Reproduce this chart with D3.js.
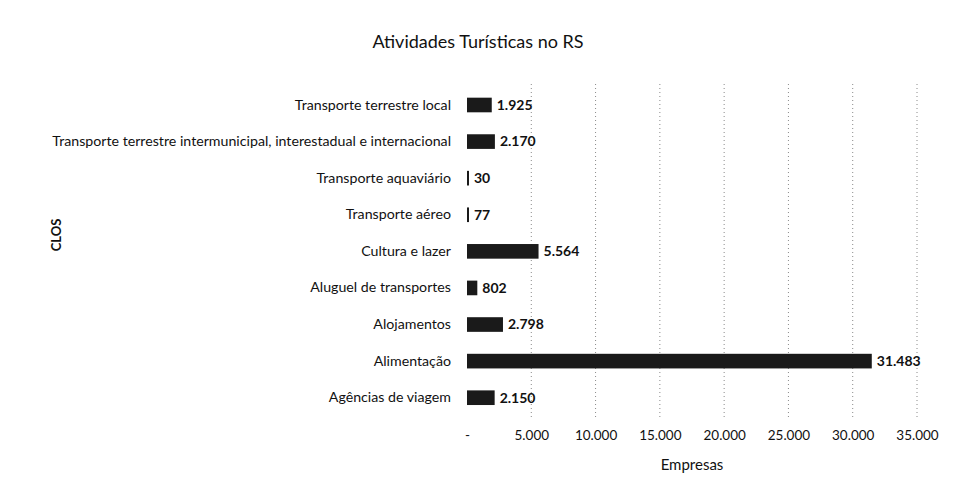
<!DOCTYPE html>
<html>
<head>
<meta charset="utf-8">
<script src="https://cdnjs.cloudflare.com/ajax/libs/d3/7.8.5/d3.min.js"></script>
<style>
  body { margin: 0; background: #fff; }
  #chart text { font-family: Lato, "Open Sans", sans-serif; fill: #111; }
</style>
</head>
<body>
<div id="chart"></div>
<script>
// dados
const categorias = [
    "Transporte terrestre local",
    "Transporte terrestre intermunicipal, interestadual e internacional",
    "Transporte aquaviário",
    "Transporte aéreo",
    "Cultura e lazer",
    "Aluguel de transportes",
    "Alojamentos",
    "Alimentação",
    "Agências de viagem"
];
const empresas = [1925, 2170, 30, 77, 5564, 802, 2798, 31483, 2150];
const ticksX = [0, 5000, 10000, 15000, 20000, 25000, 30000, 35000];

const data = categorias.map((c, i) => ({ cat: c, val: empresas[i] }));

// formato pt-BR: 1.925 e "-" para zero
const fmt = v => v === 0 ? "-" : d3.format(",")(v).replace(/,/g, ".");

function drawChart() {
    var W = 957, H = 478;
    var plotTop = 84, plotBottom = 420, plotLeft = 467;

    var root = d3.select("#chart").append("svg")
        .attr("width", W)
        .attr("height", H);

    // título
    root.append("text")
        .attr("x", 478)
        .attr("y", 48)
        .attr("text-anchor", "middle")
        .style("font-size", "18px")
        .text("Atividades Turísticas no RS");

    var svg = root.append("g")
        .attr("transform", `translate(${plotLeft},0)`);

    var x = d3.scaleLinear().domain([0, 35000]).range([0, 450]);
    var y = d3.scaleBand().domain(categorias).range([86.7, 416])
        .paddingInner(0.6).paddingOuter(0.3);

    // linhas de grade pontilhadas
    svg.selectAll(".grid")
        .data(ticksX.slice(1))
        .enter().append("line")
        .attr("class", "grid")
        .attr("x1", d => x(d)).attr("x2", d => x(d))
        .attr("y1", plotTop).attr("y2", plotBottom)
        .attr("stroke", "#8a8a8a")
        .attr("stroke-width", 1)
        .attr("stroke-dasharray", "1,3");

    // barras
    svg.selectAll(".bar")
        .data(data)
        .enter().append("rect")
        .attr("class", "bar")
        .attr("x", x(0))
        .attr("y", d => y(d.cat))
        .attr("width", d => Math.max(2, x(d.val) - x(0)))
        .attr("height", y.bandwidth())
        .attr("fill", "#1a1a1a");

    // rótulos de valor
    svg.selectAll(".bar-label")
        .data(data)
        .enter().append("text")
        .attr("class", "bar-label")
        .attr("x", d => Math.max(2, x(d.val)) + 5)
        .attr("y", d => y(d.cat) + y.bandwidth() / 2)
        .attr("dy", "0.35em")
        .style("font-size", "14px")
        .style("font-weight", "bold")
        .text(d => fmt(d.val));

    // eixo Y (categorias)
    var yAxis = svg.append("g")
        .attr("class", "axis y-axis")
        .attr("transform", "translate(-16,0)")
        .call(d3.axisLeft(y).tickSize(0).tickPadding(0));
    yAxis.select(".domain").remove();
    yAxis.selectAll("text").style("font-size", "14.2px");

    // eixo X
    var xAxis = svg.append("g")
        .attr("class", "axis x-axis")
        .attr("transform", `translate(0,${plotBottom})`)
        .call(d3.axisBottom(x).tickValues(ticksX).tickSize(0).tickPadding(10).tickFormat(fmt));
    xAxis.select(".domain").remove();
    xAxis.selectAll("text").style("font-size", "13.5px");

    // títulos dos eixos
    root.append("text")
        .attr("x", plotLeft + x(17500))
        .attr("y", 470)
        .attr("text-anchor", "middle")
        .style("font-size", "15px")
        .text("Empresas");

    root.append("text")
        .attr("transform", "translate(61,235) rotate(-90)")
        .attr("text-anchor", "middle")
        .style("font-size", "13px")
        .style("font-weight", "bold")
        .text("CLOS");
}

drawChart();
</script>
</body>
</html>
